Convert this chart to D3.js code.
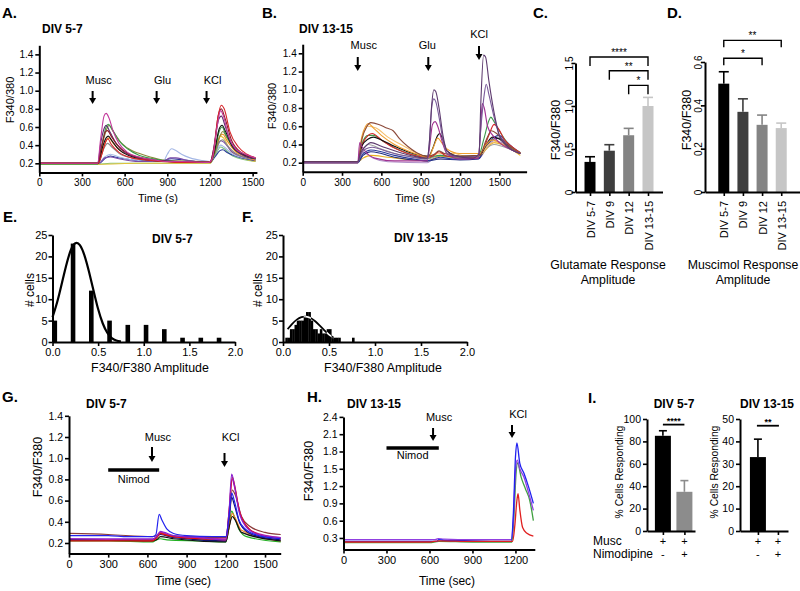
<!DOCTYPE html>
<html><head><meta charset="utf-8">
<script src="https://cdn.jsdelivr.net/npm/d3@7"></script>
<style>body{margin:0;background:#fff} svg{display:block}</style>
</head><body><svg id="c" width="800" height="591"></svg>
<script>
// ---------------- DATA ----------------
// Panel A traces (time s, F340/380)
const tracesA = [
 [[0,0.19],[420,0.19],[500,0.2],[700,0.2],[1200,0.2],[1240,0.3],[1275,0.38],[1300,0.36],[1360,0.28],[1520,0.22]],
 [[0,0.19],[420,0.19],[700,0.2],[1000,0.2],[1200,0.2],[1240,0.32],[1275,0.5],[1295,0.48],[1350,0.33],[1520,0.22]],
 [[0,0.2],[420,0.2],[460,0.25],[500,0.28],[530,0.27],[600,0.25],[700,0.23],[850,0.23],[930,0.25],[1000,0.24],[1100,0.22],[1200,0.21],[1235,0.27],[1270,0.34],[1290,0.35],[1320,0.32],[1400,0.27],[1520,0.23]],
 [[0,0.2],[415,0.2],[460,0.27],[500,0.3],[560,0.27],[650,0.24],[800,0.22],[870,0.22],[900,0.3],[930,0.36],[960,0.34],[1000,0.3],[1060,0.26],[1150,0.23],[1200,0.22],[1240,0.32],[1275,0.4],[1300,0.38],[1360,0.3],[1520,0.24]],
 [[0,0.2],[420,0.2],[460,0.26],[500,0.27],[560,0.25],[700,0.22],[870,0.22],[920,0.26],[960,0.26],[1020,0.24],[1100,0.22],[1200,0.21],[1240,0.35],[1275,0.45],[1300,0.43],[1360,0.32],[1520,0.24]],
 [[0,0.2],[415,0.2],[450,0.35],[480,0.42],[510,0.38],[560,0.31],[650,0.26],[800,0.23],[1200,0.21],[1235,0.3],[1270,0.44],[1290,0.46],[1320,0.4],[1380,0.31],[1520,0.24]],
 [[0,0.2],[415,0.2],[445,0.35],[475,0.46],[490,0.48],[520,0.42],[570,0.34],[650,0.28],[760,0.24],[900,0.22],[1200,0.21],[1230,0.3],[1270,0.5],[1290,0.52],[1320,0.45],[1380,0.33],[1460,0.27],[1520,0.23]],
 [[0,0.2],[415,0.2],[445,0.42],[475,0.58],[490,0.62],[520,0.55],[580,0.42],[650,0.34],[700,0.31],[780,0.27],[900,0.23],[1200,0.22],[1230,0.3],[1270,0.5],[1290,0.55],[1320,0.48],[1380,0.35],[1460,0.28],[1520,0.25]],
 [[0,0.19],[410,0.19],[440,0.4],[470,0.6],[485,0.63],[510,0.58],[560,0.45],[620,0.36],[700,0.29],[800,0.25],[950,0.22],[1200,0.21],[1230,0.3],[1265,0.55],[1285,0.6],[1310,0.52],[1360,0.38],[1440,0.29],[1520,0.25]],
 [[0,0.2],[415,0.2],[445,0.38],[470,0.48],[485,0.5],[510,0.45],[560,0.35],[640,0.28],[750,0.24],[900,0.22],[1200,0.21],[1230,0.32],[1265,0.58],[1285,0.62],[1310,0.55],[1360,0.38],[1440,0.29],[1520,0.25]],
 [[0,0.2],[410,0.2],[435,0.45],[460,0.6],[470,0.62],[495,0.55],[540,0.42],[600,0.32],[700,0.26],[850,0.23],[1200,0.21],[1225,0.35],[1260,0.68],[1280,0.72],[1305,0.62],[1350,0.42],[1420,0.3],[1520,0.25]],
 [[0,0.2],[410,0.2],[440,0.4],[465,0.55],[480,0.56],[505,0.5],[550,0.4],[620,0.31],[720,0.26],[900,0.22],[1200,0.21],[1225,0.35],[1260,0.74],[1280,0.8],[1305,0.7],[1350,0.46],[1420,0.32],[1520,0.26]],
 [[0,0.2],[415,0.2],[440,0.3],[470,0.45],[480,0.47],[510,0.4],[560,0.32],[650,0.26],[800,0.23],[1000,0.21],[1200,0.21],[1225,0.3],[1255,0.7],[1280,0.84],[1300,0.8],[1340,0.55],[1400,0.38],[1460,0.3],[1520,0.26]],
 [[0,0.2],[410,0.2],[430,0.45],[455,0.72],[470,0.75],[490,0.7],[520,0.55],[560,0.42],[620,0.32],[700,0.27],[800,0.24],[900,0.22],[1000,0.22],[1190,0.21],[1215,0.25],[1250,0.6],[1275,0.78],[1295,0.72],[1330,0.5],[1380,0.36],[1450,0.3],[1520,0.26]]
];
const colorsA = ["#7cc47c","#e2c23a","#2b3a9a","#a5b8e6","#7a4aa8","#8a8a8a","#f08c1e","#8c8a3c","#3c9a4a","#111111","#5b2c6f","#8e1b2a","#d7262b","#c2399b"];
const xTicksA = [0,300,600,900,1200,1500];
const yTicksA = [0.2,0.4,0.6,0.8,1.0,1.2,1.4];
const stimA = ["Musc","Glu","KCl"];
const stimTimesA = [375,825,1176];

// Panel B traces
const tracesB = [
 [[0,0.2],[420,0.2],[450,0.32],[480,0.3],[540,0.25],[650,0.21],[950,0.2],[1000,0.24],[1100,0.24],[1340,0.24],[1400,0.35],[1460,0.44],[1520,0.42],[1600,0.35],[1660,0.3]],
 [[0,0.21],[420,0.21],[460,0.25],[520,0.28],[650,0.26],[850,0.23],[950,0.22],[1050,0.27],[1200,0.25],[1340,0.26],[1400,0.35],[1460,0.42],[1520,0.4],[1600,0.34],[1660,0.28]],
 [[0,0.21],[420,0.21],[460,0.35],[500,0.4],[600,0.35],[700,0.3],[850,0.26],[950,0.24],[1050,0.28],[1200,0.27],[1340,0.27],[1400,0.36],[1460,0.4],[1520,0.38],[1660,0.3]],
 [[0,0.2],[420,0.2],[460,0.28],[520,0.32],[600,0.3],[700,0.26],[950,0.22],[1050,0.24],[1200,0.23],[1340,0.24],[1400,0.38],[1460,0.46],[1500,0.47],[1560,0.4],[1660,0.3]],
 [[0,0.2],[420,0.2],[460,0.3],[520,0.34],[600,0.32],[700,0.28],[850,0.24],[950,0.22],[1000,0.24],[1050,0.26],[1150,0.24],[1340,0.25],[1400,0.38],[1460,0.48],[1500,0.5],[1540,0.45],[1600,0.37],[1660,0.31]],
 [[0,0.21],[420,0.21],[460,0.5],[500,0.6],[560,0.58],[650,0.48],[750,0.4],[850,0.32],[950,0.27],[1050,0.3],[1150,0.3],[1250,0.27],[1350,0.28],[1420,0.4],[1470,0.43],[1530,0.4],[1660,0.31]],
 [[0,0.21],[420,0.21],[450,0.4],[500,0.5],[540,0.5],[620,0.43],[720,0.35],[850,0.28],[950,0.25],[1000,0.27],[1050,0.28],[1150,0.26],[1340,0.27],[1380,0.45],[1420,0.66],[1435,0.7],[1460,0.65],[1500,0.55],[1560,0.42],[1660,0.31]],
 [[0,0.21],[420,0.21],[450,0.38],[500,0.5],[530,0.52],[600,0.45],[700,0.36],[800,0.3],[950,0.26],[1000,0.28],[1040,0.32],[1100,0.27],[1300,0.26],[1360,0.3],[1420,0.5],[1460,0.62],[1490,0.58],[1540,0.45],[1600,0.37],[1660,0.31]],
 [[0,0.21],[420,0.21],[450,0.38],[500,0.46],[540,0.48],[600,0.45],[700,0.38],[800,0.32],[900,0.28],[960,0.27],[990,0.35],[1030,0.5],[1045,0.52],[1070,0.45],[1100,0.33],[1200,0.27],[1350,0.28],[1400,0.4],[1450,0.48],[1500,0.46],[1580,0.36],[1660,0.3]],
 [[0,0.2],[420,0.2],[450,0.48],[480,0.6],[500,0.63],[540,0.58],[600,0.5],[700,0.4],[800,0.33],[900,0.28],[960,0.26],[1000,0.38],[1030,0.47],[1060,0.42],[1100,0.35],[1200,0.3],[1350,0.3],[1400,0.4],[1450,0.45],[1500,0.42],[1580,0.36],[1660,0.3]],
 [[0,0.21],[420,0.21],[450,0.45],[490,0.6],[520,0.64],[580,0.62],[640,0.58],[690,0.55],[740,0.46],[800,0.38],[870,0.31],[950,0.27],[1000,0.29],[1040,0.33],[1080,0.3],[1200,0.27],[1350,0.28],[1400,0.45],[1440,0.55],[1480,0.52],[1540,0.42],[1660,0.3]],
 [[0,0.2],[420,0.2],[435,0.42],[450,0.38],[480,0.32],[550,0.25],[700,0.22],[950,0.22],[970,0.4],[990,0.62],[1010,0.65],[1030,0.6],[1060,0.45],[1100,0.3],[1200,0.24],[1340,0.25],[1355,0.5],[1370,0.85],[1385,0.8],[1410,0.6],[1450,0.5],[1500,0.42],[1580,0.35],[1660,0.3]],
 [[0,0.2],[420,0.2],[440,0.28],[480,0.35],[530,0.37],[650,0.32],[800,0.27],[950,0.24],[965,0.4],[985,0.82],[1000,0.9],[1015,0.87],[1040,0.7],[1070,0.45],[1100,0.3],[1200,0.26],[1340,0.27],[1360,0.6],[1385,0.95],[1400,1.06],[1420,0.95],[1460,0.7],[1500,0.5],[1560,0.38],[1660,0.3]],
 [[0,0.21],[420,0.21],[440,0.3],[480,0.38],[520,0.42],[600,0.38],[700,0.33],[850,0.27],[950,0.25],[965,0.4],[985,0.85],[1000,1.0],[1015,0.98],[1040,0.8],[1070,0.5],[1100,0.33],[1150,0.28],[1300,0.25],[1345,0.3],[1360,0.9],[1380,1.38],[1395,1.36],[1420,1.1],[1460,0.75],[1500,0.5],[1560,0.38],[1660,0.3]]
];
const colorsB = ["#b090c8","#e8b020","#a0a0a0","#1f2d80","#2b3a9a","#f5c070","#3c9a4a","#d7262b","#111111","#f0a030","#8c4a3a","#a03090","#7a5a9a","#5d3a6e"];
const xTicksB = [0,300,600,900,1200,1500];
const yTicksB = [0.2,0.4,0.6,0.8,1.0,1.2,1.4];
const stimB = ["Musc","Glu","KCl"];
const stimTimesB = [420,958,1345];

// Panel C / D bars
const catsCD = ["DIV 5-7","DIV 9","DIV 12","DIV 13-15"];
const gluMean = [0.35,0.48,0.66,1.0];
const gluSem  = [0.06,0.07,0.08,0.10];
const musMean = [0.50,0.37,0.31,0.295];
const musSem  = [0.055,0.06,0.045,0.023];
const barGrays = ["#000000","#3e3e3e","#848484","#c6c6c6"];
const yTicksC = [0,0.5,1.0,1.5];
const yTicksD = [0,0.2,0.4,0.6];
const sigC = [[0,3,"****"],[1,3,"**"],[2,3,"*"]];
const sigCLevel = [1.57,1.41,1.24];
const sigD = [[0,3,"**"],[0,2,"*"]];
const sigDLevel = [0.70,0.617];

// Panel E / F histograms
const binsE = [0,0.2,0.4,0.6,0.8,1.0,1.2,1.4,1.6,1.8];
const countsE = [5,23,12,5,4,4,3,1,1,1];
const fitE_x = [0,0.05,0.1,0.15,0.2,0.25,0.3,0.35,0.4,0.45,0.5,0.55,0.6,0.65,0.7,0.75];
const fitE_y = [5.8,9,13.5,18,21.8,23.4,23,20.5,16.5,12,7.5,4.2,2,0.8,0.3,0.1];
const binsF = [0.025,0.05,0.075,0.1,0.125,0.15,0.175,0.2,0.225,0.25,0.275,0.3,0.325,0.35,0.375,0.4,0.425,0.45,0.475,0.5,0.525,0.55,0.575,0.6,0.75];
const countsF = [1,1,3,3,4,5,5,5,6,7,7,5,3,3,2,3,2,2,3,3,1,1,1,1,1];
const binWidthF = 0.025;
const fitF_x = [0.05,0.1,0.15,0.2,0.25,0.3,0.35,0.4,0.45,0.5,0.55];
const fitF_y = [3,4.3,5.3,5.9,6.0,5.7,4.9,3.8,2.7,1.7,1.0];
const xTicksEF = [0,0.5,1.0,1.5,2.0];
const yTicksEF = [0,5,10,15,20,25];

// Panel G traces
const tracesG = [
 [[0,0.22],[300,0.22],[640,0.21],[670,0.23],[700,0.24],[750,0.23],[1000,0.22],[1200,0.21],[1225,0.35],[1245,0.5],[1265,0.45],[1300,0.33],[1360,0.26],[1620,0.21]],
 [[0,0.23],[300,0.23],[640,0.22],[670,0.25],[700,0.29],[750,0.27],[1000,0.24],[1200,0.22],[1225,0.35],[1250,0.48],[1270,0.44],[1320,0.32],[1620,0.22]],
 [[0,0.23],[300,0.23],[640,0.22],[670,0.23],[700,0.26],[800,0.24],[1200,0.21],[1225,0.35],[1250,0.45],[1270,0.42],[1320,0.3],[1620,0.22]],
 [[0,0.29],[300,0.28],[640,0.26],[670,0.27],[700,0.3],[750,0.28],[900,0.26],[1200,0.25],[1225,0.4],[1250,0.7],[1270,0.66],[1320,0.45],[1380,0.36],[1500,0.3],[1620,0.28]],
 [[0,0.23],[300,0.23],[640,0.23],[700,0.28],[800,0.25],[1200,0.22],[1225,0.45],[1245,0.63],[1265,0.56],[1310,0.38],[1400,0.28],[1620,0.23]],
 [[0,0.24],[640,0.23],[700,0.3],[800,0.26],[1200,0.24],[1225,0.5],[1248,0.8],[1268,0.72],[1310,0.48],[1400,0.31],[1620,0.25]],
 [[0,0.22],[300,0.22],[640,0.22],[670,0.25],[700,0.29],[730,0.28],[800,0.26],[1000,0.24],[1200,0.23],[1225,0.5],[1250,0.82],[1270,0.73],[1300,0.52],[1360,0.36],[1450,0.28],[1620,0.24]],
 [[0,0.24],[300,0.24],[640,0.24],[670,0.26],[700,0.31],[730,0.3],[800,0.27],[1000,0.25],[1200,0.23],[1225,0.5],[1245,0.85],[1265,0.75],[1300,0.5],[1350,0.36],[1450,0.28],[1620,0.25]],
 [[0,0.27],[150,0.27],[300,0.27],[450,0.26],[640,0.26],[665,0.28],[690,0.47],[710,0.42],[750,0.33],[800,0.29],[900,0.27],[1100,0.26],[1200,0.26],[1225,0.45],[1245,0.67],[1265,0.6],[1300,0.42],[1350,0.33],[1450,0.27],[1620,0.24]]
];
const colorsG = ["#22b022","#f08020","#111111","#8b3a3a","#101070","#c020a0","#e01010","#8a1fd0","#2222ee"];
const xTicksG = [0,300,600,900,1200,1500];
const yTicksG = [0.2,0.4,0.6,0.8,1.0,1.2,1.4];
const nimodG = [300,690];
const stimG = ["Musc","KCl"];
const stimTimesG = [635,1190];

// Panel H traces
const tracesH = [
 [[0,0.22],[600,0.22],[665,0.24],[900,0.23],[1175,0.23],[1190,0.7],[1205,1.45],[1215,1.6],[1240,1.35],[1270,1.15],[1300,0.95],[1325,0.6]],
 [[0,0.27],[300,0.27],[600,0.27],[640,0.27],[660,0.29],[700,0.28],[900,0.27],[1170,0.27],[1185,0.6],[1200,1.45],[1212,1.65],[1230,1.5],[1260,1.35],[1290,1.1],[1325,0.78]],
 [[0,0.24],[600,0.24],[650,0.24],[665,0.27],[700,0.26],[900,0.25],[1170,0.24],[1185,0.7],[1200,1.7],[1210,1.95],[1230,1.6],[1260,1.42],[1290,1.2],[1325,0.9]],
 [[0,0.23],[600,0.23],[665,0.25],[900,0.24],[1180,0.24],[1195,0.5],[1210,0.95],[1218,1.07],[1230,0.8],[1250,0.48],[1280,0.38],[1325,0.33]]
];
const colorsH = ["#40a040","#9040e0","#2020f0","#e02020"];
const xTicksH = [0,300,600,900,1200];
const yTicksH = [0.3,0.6,0.9,1.2,1.5,1.8,2.1,2.4];
const nimodH = [300,665];
const stimH = ["Musc","KCl"];
const stimTimesH = [625,1176];

// Panel I
const catsI = ["ctrl","nimo"];
const respI1 = [85,35];
const semI1 = [4.5,10];
const respI2 = [33,0];
const semI2 = [8,0];
const yTicksI1 = [0,20,40,60,80,100];
const yTicksI2 = [0,10,20,30,40,50];
const muscRow = ["+","+"];
const nimoRow = ["-","+"];
const sigI1 = "****", sigI1Level = 95;
const sigI2 = "**", sigI2Level = 47;

// ---------------- DRAWING ----------------
const FONT = '"Liberation Sans", Arial, Helvetica, sans-serif';
const svg = d3.select("#c");
svg.append("rect").attr("width",800).attr("height",591).attr("fill","#fff");

function txt(x, y, s, o = {}) {
  const t = svg.append("text").attr("x", x).attr("y", y).text(s)
    .attr("font-family", FONT).attr("font-size", o.size || 11)
    .attr("font-weight", o.weight || "normal")
    .attr("text-anchor", o.anchor || "start").attr("fill", "#000");
  if (o.rot) t.attr("transform", `rotate(${o.rot},${x},${y})`);
  return t;
}
function drawAxis(axis, tx, ty, fs) {
  const g = svg.append("g").attr("transform", `translate(${tx},${ty})`).call(axis);
  g.attr("font-family", FONT).attr("font-size", fs || 10);
  g.select(".domain").attr("stroke", "#000").attr("stroke-width", 2);
  g.selectAll(".tick line").attr("stroke", "#000").attr("stroke-width", 1.6);
  g.selectAll(".tick text").attr("fill", "#000");
  return g;
}
function arrow(x, y1, y2) {
  svg.append("line").attr("x1", x).attr("x2", x).attr("y1", y1).attr("y2", y2 - 4)
    .attr("stroke", "#000").attr("stroke-width", 2);
  svg.append("path").attr("d", `M${x-3.5},${y2-6}L${x+3.5},${y2-6}L${x},${y2}Z`).attr("fill", "#000");
}
function traces(data, colors, xs, ys, w) {
  const line = d3.line().x(d => xs(d[0])).y(d => ys(d[1])).curve(d3.curveMonotoneX);
  data.forEach((tr, i) => {
    svg.append("path").attr("d", line(tr)).attr("fill", "none")
      .attr("stroke", colors[i]).attr("stroke-width", w || 1.1).attr("stroke-linejoin", "round");
  });
}
const f1 = d3.format(".1f");
const fd = d3.format("d");

// ===== Panel A =====
const xA = d3.scaleLinear().domain([0, 1530]).range([39.3, 256.9]);
const yA = d3.scaleLinear().domain([0.1, 1.5]).range([172.4, 45.3]);
traces(tracesA, colorsA, xA, yA);
drawAxis(d3.axisLeft(yA).tickValues(yTicksA).tickFormat(f1).tickSize(4).tickSizeOuter(0).tickPadding(2), xA.range()[0], 0, 10);
drawAxis(d3.axisBottom(xA).tickValues(xTicksA).tickFormat(fd).tickSize(4).tickSizeOuter(0).tickPadding(3), 0, yA.range()[0], 10);
txt(2, 17.5, "A.", {size: 15, weight: "bold"});
txt(42, 32.5, "DIV 5-7", {size: 12, weight: "bold"});
txt(13.5, 100, "F340/380", {size: 11, anchor: "middle", rot: -90});
txt(158, 202, "Time (s)", {size: 11, anchor: "middle"});
stimA.forEach((s, i) => {
  const x = xA(stimTimesA[i]);
  txt(x + 6, 84, s, {size: 11, anchor: "middle"});
  arrow(x, 91, 104);
});

// ===== Panel B =====
const xB = d3.scaleLinear().domain([0, 1708]).range([302.7, 526.6]);
const yB = d3.scaleLinear().domain([0.1, 1.5]).range([171.8, 44.2]);
traces(tracesB, colorsB, xB, yB);
drawAxis(d3.axisLeft(yB).tickValues(yTicksB).tickFormat(f1).tickSize(4).tickSizeOuter(0).tickPadding(2), xB.range()[0], 0, 10);
drawAxis(d3.axisBottom(xB).tickValues(xTicksB).tickFormat(fd).tickSize(4).tickSizeOuter(0).tickPadding(3), 0, yB.range()[0], 10);
txt(262, 17.5, "B.", {size: 15, weight: "bold"});
txt(299, 32.5, "DIV 13-15", {size: 12, weight: "bold"});
txt(275.5, 106, "F340/380", {size: 11, anchor: "middle", rot: -90});
txt(415, 202, "Time (s)", {size: 11, anchor: "middle"});
const stimBOffsets = [6, -1, 0];
stimB.forEach((s, i) => {
  const x = xB(stimTimesB[i]);
  const top = i === 2 ? 38 : 49;
  txt(x + stimBOffsets[i], top, s, {size: 11, anchor: "middle"});
  arrow(x, top + 8, top + 22);
});

// ===== Panels C & D (bar charts) =====
function barPanel(mean, sem, xs, ys, yTicks, sig, sigLevel, leg) {
  const bw = 11;
  catsCD.forEach((c, i) => {
    const cx = xs(c);
    svg.append("rect").attr("x", cx - bw / 2).attr("y", ys(mean[i])).attr("width", bw)
      .attr("height", ys(0) - ys(mean[i])).attr("fill", barGrays[i]);
    svg.append("line").attr("x1", cx).attr("x2", cx).attr("y1", ys(mean[i])).attr("y2", ys(mean[i] + sem[i]))
      .attr("stroke", barGrays[i]).attr("stroke-width", 1.6);
    svg.append("line").attr("x1", cx - 5).attr("x2", cx + 5).attr("y1", ys(mean[i] + sem[i])).attr("y2", ys(mean[i] + sem[i]))
      .attr("stroke", barGrays[i]).attr("stroke-width", 1.6);
  });
  const gy = drawAxis(d3.axisLeft(ys).tickValues(yTicks).tickFormat(d => d === 0 ? "0" : f1(d)).tickSize(4).tickSizeOuter(0), xs.range()[0], 0, 10);
  gy.selectAll(".tick text").attr("x", null).attr("dy", null).attr("text-anchor", "middle")
    .attr("transform", "translate(-3,0) rotate(-90)");
  const gx = drawAxis(d3.axisBottom(xs).tickSize(4).tickSizeOuter(0), 0, ys(0), 11);
  gx.selectAll(".tick text").attr("y", null).attr("dy", null).attr("text-anchor", "end")
    .attr("transform", "translate(4,9) rotate(-90)");
  sig.forEach((s, k) => {
    const x1 = xs(catsCD[s[0]]), x2 = xs(catsCD[s[1]]), y = ys(sigLevel[k]);
    svg.append("path").attr("d", `M${x1},${y + leg}V${y}H${x2}V${y + leg}`).attr("fill", "none")
      .attr("stroke", "#000").attr("stroke-width", 1.4);
    txt((x1 + x2) / 2, y - 1, s[2], {size: 10, anchor: "middle"});
  });
}
const xC = d3.scalePoint().domain(catsCD).range([575.5, 662.5]).padding(0.75);
const yC = d3.scaleLinear().domain([0, 1.5]).range([192, 63]);
barPanel(gluMean, gluSem, xC, yC, yTicksC, sigC, sigCLevel, 9);
const xD = d3.scalePoint().domain(catsCD).range([705, 800]).padding(0.98);
const yD = d3.scaleLinear().domain([0, 0.6]).range([192, 62]);
barPanel(musMean, musSem, xD, yD, yTicksD, sigD, sigDLevel, 7);
txt(533, 18, "C.", {size: 15, weight: "bold"});
txt(667, 18, "D.", {size: 15, weight: "bold"});
txt(560, 130, "F340/F380", {size: 12.5, anchor: "middle", rot: -90});
txt(691, 120, "F340/F380", {size: 12.5, anchor: "middle", rot: -90});
txt(608, 269, "Glutamate Response", {size: 12.3, anchor: "middle"});
txt(608, 284, "Amplitude", {size: 12.3, anchor: "middle"});
txt(743, 269, "Muscimol Response", {size: 12.3, anchor: "middle"});
txt(743, 284, "Amplitude", {size: 12.3, anchor: "middle"});

// ===== Panel E =====
const xE = d3.scaleLinear().domain([0, 2]).range([52.5, 235]);
const yE = d3.scaleLinear().domain([0, 25]).range([342, 235]);
binsE.forEach((b, i) => {
  svg.append("rect").attr("x", xE(b)).attr("y", yE(countsE[i])).attr("width", 4.6)
    .attr("height", yE(0) - yE(countsE[i])).attr("fill", "#000");
});
const lineE = d3.line().x((d, i) => xE(fitE_x[i])).y(d => yE(d)).curve(d3.curveBasis);
svg.append("path").attr("d", lineE(fitE_y)).attr("fill", "none").attr("stroke", "#000").attr("stroke-width", 2.2);
drawAxis(d3.axisLeft(yE).tickValues(yTicksEF).tickSize(4).tickSizeOuter(0).tickPadding(1), xE.range()[0], 0, 11);
drawAxis(d3.axisBottom(xE).tickValues(xTicksEF).tickFormat(f1).tickSize(4).tickSizeOuter(0).tickPadding(2), 0, yE(0), 11);
txt(3, 222, "E.", {size: 15, weight: "bold"});
txt(152, 243, "DIV 5-7", {size: 12, weight: "bold"});
txt(33.5, 290, "# cells", {size: 12, anchor: "middle", rot: -90});
txt(150, 372, "F340/F380 Amplitude", {size: 12.4, anchor: "middle"});

// ===== Panel F =====
const xF = d3.scaleLinear().domain([0, 2]).range([283, 467]);
const yF = d3.scaleLinear().domain([0, 25]).range([342, 235]);
const clip = svg.append("defs").append("clipPath").attr("id", "fclip");
binsF.forEach((b, i) => {
  const r = {x: xF(b), y: yF(countsF[i]), w: xF(b + binWidthF) - xF(b) + 0.3, h: yF(0) - yF(countsF[i])};
  svg.append("rect").attr("x", r.x).attr("y", r.y).attr("width", r.w).attr("height", r.h).attr("fill", "#000");
  clip.append("rect").attr("x", r.x).attr("y", r.y).attr("width", r.w).attr("height", r.h);
});
const lineF = d3.line().x((d, i) => xF(fitF_x[i])).y(d => yF(d)).curve(d3.curveBasis);
svg.append("path").attr("d", lineF(fitF_y)).attr("fill", "none").attr("stroke", "#000").attr("stroke-width", 1.8);
svg.append("path").attr("d", lineF(fitF_y)).attr("fill", "none").attr("stroke", "#fff").attr("stroke-width", 1.6).attr("clip-path", "url(#fclip)");
drawAxis(d3.axisLeft(yF).tickValues(yTicksEF).tickSize(4).tickSizeOuter(0).tickPadding(1), xF.range()[0], 0, 11);
drawAxis(d3.axisBottom(xF).tickValues(xTicksEF).tickFormat(f1).tickSize(4).tickSizeOuter(0).tickPadding(2), 0, yF(0), 11);
txt(242, 222, "F.", {size: 15, weight: "bold"});
txt(394, 242, "DIV 13-15", {size: 12, weight: "bold"});
txt(262, 290, "# cells", {size: 12, anchor: "middle", rot: -90});
txt(383, 372, "F340/F380 Amplitude", {size: 12.4, anchor: "middle"});

// ===== Panel G =====
const xG = d3.scaleLinear().domain([0, 1620]).range([69, 280.7]);
const yG = d3.scaleLinear().domain([0.1, 1.4]).range([553.6, 415.8]);
traces(tracesG, colorsG, xG, yG, 1.2);
drawAxis(d3.axisLeft(yG).tickValues(yTicksG).tickFormat(f1).tickSize(4).tickSizeOuter(0).tickPadding(2), xG.range()[0], 0, 10.5);
drawAxis(d3.axisBottom(xG).tickValues(xTicksG).tickFormat(fd).tickSize(4).tickSizeOuter(0).tickPadding(3), 0, yG.range()[0], 11);
txt(2, 402, "G.", {size: 15, weight: "bold"});
txt(86, 408, "DIV 5-7", {size: 12, weight: "bold"});
txt(42, 467, "F340/F380", {size: 12.5, anchor: "middle", rot: -90});
txt(183, 585, "Time (sec)", {size: 12, anchor: "middle"});
svg.append("line").attr("x1", xG(nimodG[0])).attr("x2", xG(nimodG[1])).attr("y1", 470).attr("y2", 470)
  .attr("stroke", "#000").attr("stroke-width", 3.5);
txt((xG(nimodG[0]) + xG(nimodG[1])) / 2, 483, "Nimod", {size: 11, anchor: "middle"});
stimG.forEach((s, i) => {
  const x = xG(stimTimesG[i]);
  txt(x + 6, 441, s, {size: 11, anchor: "middle"});
  if (i === 0) arrow(x, 447, 462); else arrow(x, 453, 467);
});

// ===== Panel H =====
const xH = d3.scaleLinear().domain([0, 1335]).range([343.5, 534.8]);
const yH = d3.scaleLinear().domain([0.1, 2.4]).range([549.5, 416.9]);
traces(tracesH, colorsH, xH, yH, 1.3);
drawAxis(d3.axisLeft(yH).tickValues(yTicksH).tickFormat(f1).tickSize(4).tickSizeOuter(0).tickPadding(2), xH.range()[0], 0, 10.5);
drawAxis(d3.axisBottom(xH).tickValues(xTicksH).tickFormat(fd).tickSize(4).tickSizeOuter(0).tickPadding(3), 0, yH.range()[0], 11);
txt(307, 402, "H.", {size: 15, weight: "bold"});
txt(347, 408, "DIV 13-15", {size: 12, weight: "bold"});
txt(313, 471, "F340/F380", {size: 12.5, anchor: "middle", rot: -90});
txt(447, 585, "Time (sec)", {size: 12, anchor: "middle"});
svg.append("line").attr("x1", xH(nimodH[0])).attr("x2", xH(nimodH[1])).attr("y1", 448).attr("y2", 448)
  .attr("stroke", "#000").attr("stroke-width", 3.5);
txt((xH(nimodH[0]) + xH(nimodH[1])) / 2, 459, "Nimod", {size: 11, anchor: "middle"});
stimH.forEach((s, i) => {
  const x = xH(stimTimesH[i]);
  const top = i === 0 ? 421 : 418;
  txt(x + 6, top, s, {size: 11, anchor: "middle"});
  arrow(x, top + 7, top + 20);
});

// ===== Panel I =====
function iPanel(resp, sem, xs, ys, yTicks, colors, sigTxt, sigLevel, ext) {
  const bw = 16;
  catsI.forEach((c, i) => {
    const cx = xs(c);
    if (resp[i] > 0) {
      svg.append("rect").attr("x", cx - bw / 2).attr("y", ys(resp[i])).attr("width", bw)
        .attr("height", ys(0) - ys(resp[i])).attr("fill", colors[i]);
      svg.append("line").attr("x1", cx).attr("x2", cx).attr("y1", ys(resp[i])).attr("y2", ys(resp[i] + sem[i]))
        .attr("stroke", colors[i]).attr("stroke-width", 1.6);
      svg.append("line").attr("x1", cx - 4).attr("x2", cx + 4).attr("y1", ys(resp[i] + sem[i])).attr("y2", ys(resp[i] + sem[i]))
        .attr("stroke", colors[i]).attr("stroke-width", 1.6);
    }
    txt(cx, 545, muscRow[i], {size: 11, anchor: "middle"});
    txt(cx, 558, nimoRow[i], {size: 11, anchor: "middle"});
  });
  drawAxis(d3.axisLeft(ys).tickValues(yTicks).tickSize(4).tickSizeOuter(0).tickPadding(2), xs.range()[0], 0, 10.5);
  drawAxis(d3.axisBottom(xs).tickFormat("").tickSize(4).tickSizeOuter(0), 0, ys(0), 10);
  const x1 = xs(catsI[0]) - ext, x2 = xs(catsI[1]) + ext, y = ys(sigLevel);
  svg.append("line").attr("x1", x1).attr("x2", x2).attr("y1", y).attr("y2", y).attr("stroke", "#000").attr("stroke-width", 1.8);
  txt((x1 + x2) / 2, y - 0.5, sigTxt, {size: 9, anchor: "middle", weight: "bold"});
}
const xI1 = d3.scalePoint().domain(catsI).range([647, 695]).padding(0.616).align(0.6);
const yI1 = d3.scaleLinear().domain([0, 100]).range([531, 419]);
iPanel(respI1, semI1, xI1, yI1, yTicksI1, ["#000", "#8c8c8c"], sigI1, sigI1Level, 0);
const xI2 = d3.scalePoint().domain(catsI).range([740, 788]).padding(0.7).align(0.64);
const yI2 = d3.scaleLinear().domain([0, 50]).range([531, 419]);
iPanel(respI2, semI2, xI2, yI2, yTicksI2, ["#000", "#8c8c8c"], sigI2, sigI2Level, 1);
txt(588, 403, "I.", {size: 15, weight: "bold"});
txt(674, 408, "DIV 5-7", {size: 12, weight: "bold", anchor: "middle"});
txt(767, 408, "DIV 13-15", {size: 12, weight: "bold", anchor: "middle"});
txt(623, 472, "% Cells Responding", {size: 10.3, anchor: "middle", rot: -90});
txt(718, 472, "% Cells Responding", {size: 10.3, anchor: "middle", rot: -90});
txt(593, 545, "Musc", {size: 12});
txt(593, 558, "Nimodipine", {size: 12});
</script></body></html>
